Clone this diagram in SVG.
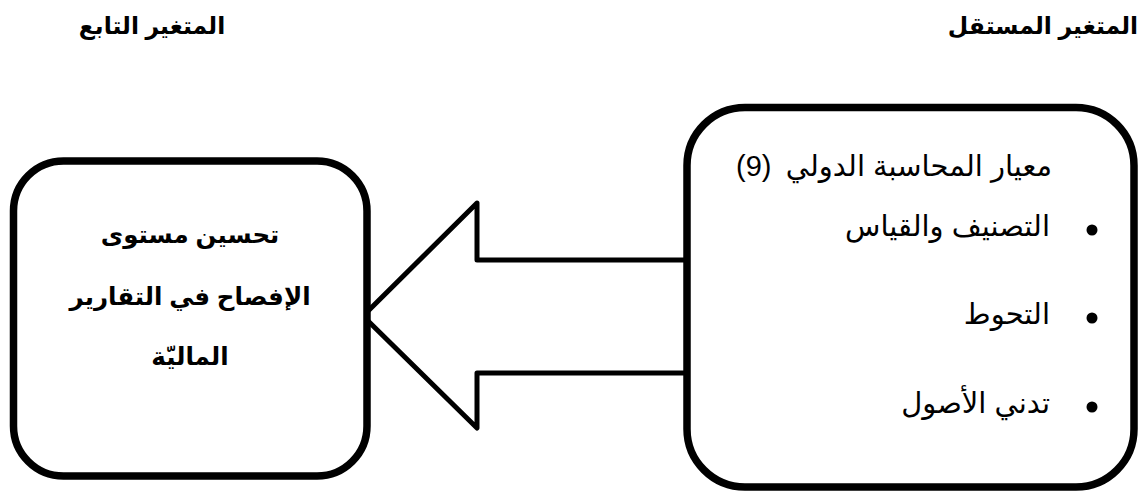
<svg xmlns="http://www.w3.org/2000/svg" width="1146" height="491" viewBox="0 0 1146 491">
  <style>
    .box { fill: #ffffff; stroke: #000000; stroke-width: 7.5; }
    .arrow { fill: #ffffff; stroke: #000000; stroke-width: 5; stroke-linejoin: round; }
    .head { font-family: "Liberation Sans", "DejaVu Sans", sans-serif; font-size: 23.5px; font-weight: bold; fill: #000; }
    .bold { font-family: "Liberation Sans", "DejaVu Sans", sans-serif; font-size: 24.5px; font-weight: bold; fill: #000; }
    .reg { font-family: "Liberation Sans", "DejaVu Sans", sans-serif; font-size: 29px; fill: #000; }
  </style>

  <!-- column headings -->
  <g id="heading-dependent">
    <text class="head" x="152" y="34" text-anchor="middle" direction="rtl">المتغير التابع</text>
  </g>
  <g id="heading-independent">
    <text class="head" x="1043" y="34" text-anchor="middle" direction="rtl">المتغير المستقل</text>
  </g>

  <!-- connector: block arrow from the independent variable to the dependent variable -->
  <g id="connectors">
    <polygon class="arrow" points="687,260 477,260 477,203 363,316 477,428 477,373 687,373"/>
  </g>

  <!-- dependent variable -->
  <g id="node-dependent">
    <rect class="box" x="13.5" y="161" width="353.5" height="315" rx="50" ry="50"/>
    <text class="bold" x="190" y="243" text-anchor="middle" direction="rtl">تحسين مستوى</text>
    <text class="bold" x="190" y="305" text-anchor="middle" direction="rtl">الإفصاح في التقارير</text>
    <text class="bold" x="190" y="365" text-anchor="middle" direction="rtl">الماليّة</text>
  </g>

  <!-- independent variable -->
  <g id="node-independent">
    <rect class="box" x="687" y="107.5" width="447" height="379.5" rx="58" ry="58"/>
    <text class="reg" x="1052" y="176" text-anchor="start" direction="rtl">معيار المحاسبة الدولي</text>
    <text class="reg" x="736" y="176" text-anchor="start" direction="ltr">(9)</text>
    <circle cx="1092" cy="230" r="5.5"/>
    <text class="reg" x="1050" y="236" text-anchor="start" direction="rtl">التصنيف والقياس</text>
    <circle cx="1092" cy="318" r="5.5"/>
    <text class="reg" x="1050" y="324" text-anchor="start" direction="rtl">التحوط</text>
    <circle cx="1092" cy="407" r="5.5"/>
    <text class="reg" x="1050" y="413" text-anchor="start" direction="rtl">تدني الأصول</text>
  </g>
</svg>
